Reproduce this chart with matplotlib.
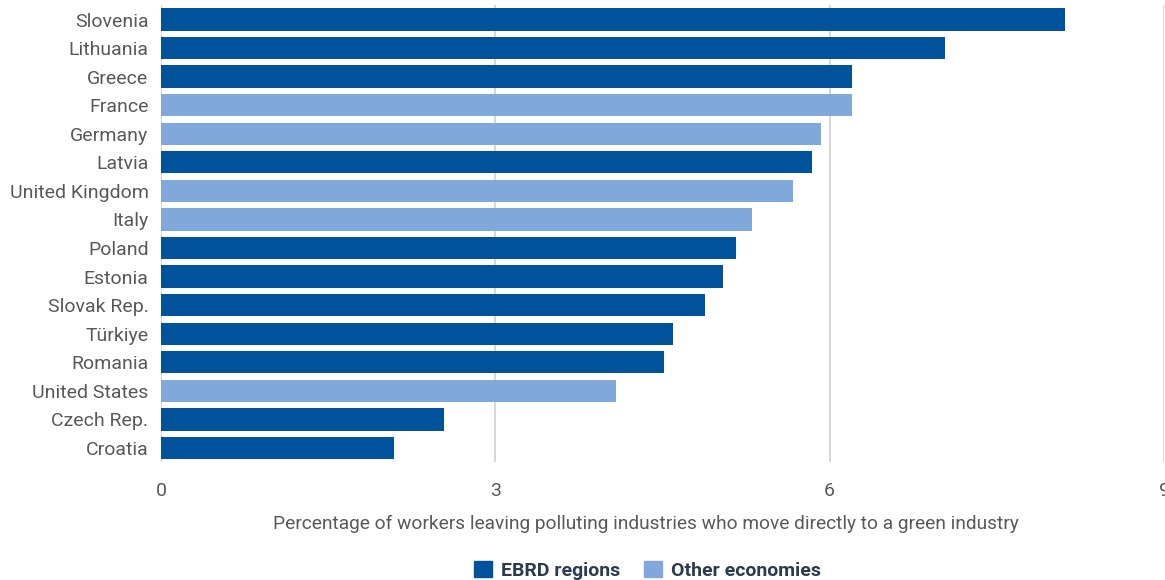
import numpy as np
import matplotlib.pyplot as plt
from matplotlib.patches import Patch

plt.rcParams['font.family'] = ['Liberation Sans Narrow', 'Roboto', 'DejaVu Sans']

# share of workers leaving polluting industries who move straight into a green one (%)
countries = ['Slovenia', 'Lithuania', 'Greece', 'France', 'Germany', 'Latvia',
             'United Kingdom', 'Italy', 'Poland', 'Estonia', 'Slovak Rep.',
             'Türkiye', 'Romania', 'United States', 'Czech Rep.', 'Croatia']
values = [8.11, 7.03, 6.20, 6.20, 5.92, 5.84, 5.67, 5.30, 5.16, 5.04, 4.88,
          4.59, 4.51, 4.08, 2.54, 2.09]
ebrd = [True, True, True, False, False, True, False, False, True, True, True,
        True, True, False, True, True]

dark = '#00539b'
light = '#80a8da'
text_col = '#595959'

fig = plt.figure(figsize=(11.65, 5.8), dpi=100)
ax = fig.add_axes([0.1382, 0.203, 0.861, 0.788])

y = np.arange(len(countries))
colors = [dark if e else light for e in ebrd]
ax.barh(y, values, height=0.78, color=colors, zorder=3)

ax.set_ylim(len(countries) - 0.5, -0.5)
ax.set_xlim(0, 9)
ax.set_xticks([0, 3, 6, 9])
ax.set_yticks(y)
ax.set_yticklabels(countries)
ax.grid(axis='x', color='#d0d0d0', linewidth=1.2, zorder=0)
ax.tick_params(axis='both', length=0, colors=text_col, labelsize=14)
ax.tick_params(axis='x', pad=14)
ax.tick_params(axis='y', pad=9)
for s in ax.spines.values():
    s.set_visible(False)

ax.set_xlabel('Percentage of workers leaving polluting industries who move directly to a green industry',
              color=text_col, fontsize=13.8)
ax.xaxis.set_label_coords(0.483, -0.115)

handles = [Patch(color=dark, label='EBRD regions'),
           Patch(color=light, label='Other economies')]
leg = fig.legend(handles=handles, loc='lower center', bbox_to_anchor=(0.556, -0.03),
                 ncol=2, frameon=False, fontsize=14, handlelength=0.9, handleheight=0.9,
                 columnspacing=1.2, handletextpad=0.5)
for t in leg.get_texts():
    t.set_color('#2e3a4f')
    t.set_fontweight('semibold')

fig.savefig('out.png', dpi=100)
